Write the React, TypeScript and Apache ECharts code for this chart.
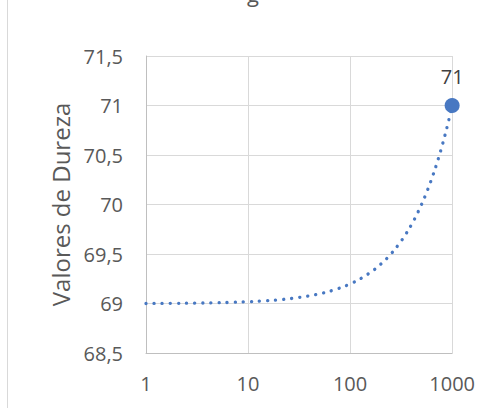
import React, { useEffect, useRef } from "react";
import * as echarts from "echarts";

const trendX = [1, 2, 3, 5, 7, 10, 15, 20, 30, 50, 70, 100, 150, 200, 250, 300, 350, 400, 450, 500, 550, 600, 650, 700, 750, 800, 850, 900, 950, 1000];
const trendY = [69, 69.002, 69.004, 69.008, 69.012, 69.018, 69.028, 69.038, 69.058, 69.098, 69.138, 69.198, 69.298, 69.398, 69.498, 69.598, 69.698, 69.798, 69.898, 69.998, 70.098, 70.198, 70.298, 70.398, 70.498, 70.598, 70.698, 70.798, 70.898, 71];
const pointX = [1000];
const pointY = [71];
const yName = "Valores de Dureza";

export default function App() {
  const ref = useRef<HTMLDivElement>(null);
  useEffect(() => {
    if (!ref.current) return;
    const chart = echarts.init(ref.current, null, { renderer: "svg" });
    const font = "'Open Sans', 'Noto Sans', sans-serif";
    chart.setOption({
      animation: false,
      backgroundColor: "#ffffff",
      grid: { left: 146, right: 24, top: 56, bottom: 55 },
      graphic: [
        { type: "line", shape: { x1: 7.5, y1: 0, x2: 7.5, y2: 408 }, style: { stroke: "#d9d9d9", lineWidth: 1 } },
        { type: "text", x: 253, y: -18, style: { text: "g", font: `22px ${font}`, fill: "#595959", textAlign: "center" } },
      ],
      xAxis: {
        type: "log",
        logBase: 10,
        min: 1,
        max: 1000,
        axisLine: { show: true, lineStyle: { color: "#bfbfbf", width: 1 } },
        axisTick: { show: false },
        minorTick: { show: false },
        splitLine: { show: true, lineStyle: { color: "#d9d9d9", width: 1 } },
        axisLabel: {
          color: "#595959",
          fontSize: 20,
          fontFamily: font,
          margin: 20,
          formatter: (v: number) => String(Math.round(v)),
        },
      },
      yAxis: {
        type: "value",
        min: 68.5,
        max: 71.5,
        interval: 0.5,
        name: yName,
        nameLocation: "middle",
        nameGap: 74,
        nameTextStyle: { color: "#595959", fontSize: 24, fontFamily: font },
        axisLine: { show: true, lineStyle: { color: "#bfbfbf", width: 1 } },
        axisTick: { show: false },
        splitLine: { show: true, lineStyle: { color: "#d9d9d9", width: 1 } },
        axisLabel: {
          color: "#595959",
          fontSize: 20,
          fontFamily: font,
          margin: 23,
          formatter: (v: number) => String(v).replace(".", ","),
        },
      },
      series: [
        {
          type: "line",
          data: trendX.map((x, i) => [x, trendY[i]]),
          showSymbol: false,
          smooth: true,
          lineStyle: { color: "#4878c2", width: 3.3, type: [0.1, 8], cap: "round" },
          silent: true,
          z: 2,
        },
        {
          type: "scatter",
          data: pointX.map((x, i) => [x, pointY[i]]),
          symbol: "circle",
          symbolSize: 15,
          itemStyle: { color: "#4878c2", opacity: 1 },
          label: {
            show: true,
            position: "top",
            distance: 12,
            color: "#404040",
            fontSize: 20,
            fontFamily: font,
            formatter: (p: any) => String(p.value[1]).replace(".", ","),
          },
          z: 3,
        },
      ],
    });
    return () => chart.dispose();
  }, []);
  return <div ref={ref} style={{ position: "fixed", left: 0, top: 0, width: 478, height: 408 }} />;
}
